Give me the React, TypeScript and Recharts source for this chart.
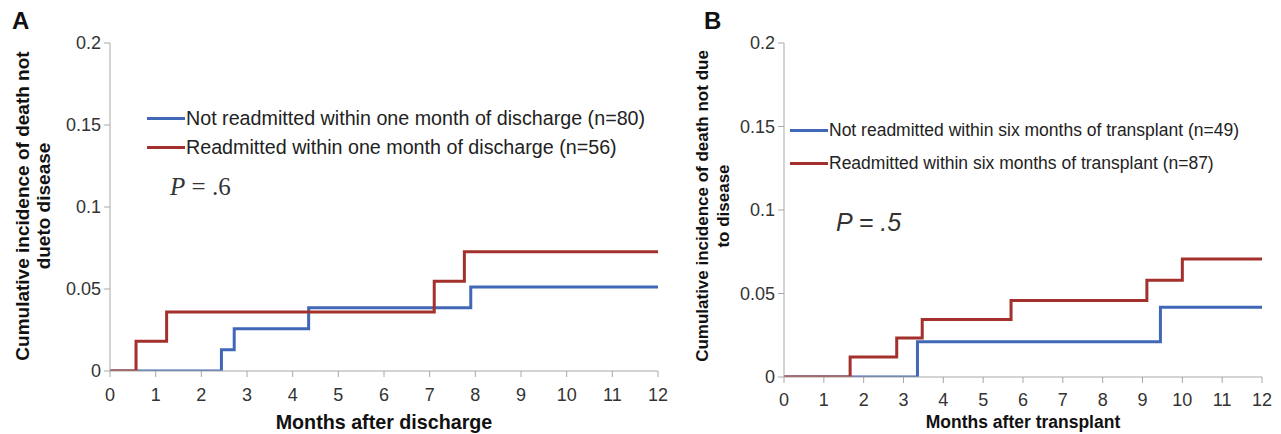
import React from 'react';
import { LineChart, Line, XAxis, YAxis, Legend } from 'recharts';

// month ticks and incidence ticks shared by both panels
const monthTicks = [0, 1, 2, 3, 4, 5, 6, 7, 8, 9, 10, 11, 12];
const incidenceTicks = [0, 0.05, 0.1, 0.15, 0.2];

// Panel A: months after discharge
const dischargeNotMonths = [0, 2.44, 2.72, 4.35, 7.9, 12];
const dischargeNotIncidence = [0, 0.013, 0.0257, 0.0385, 0.0512, 0.0512];
const dischargeReMonths = [0, 0.57, 1.24, 7.1, 7.76, 12];
const dischargeReIncidence = [0, 0.0182, 0.036, 0.0548, 0.0727, 0.0727];

// Panel B: months after transplant
const transplantNotMonths = [0, 3.35, 9.45, 12];
const transplantNotIncidence = [0, 0.0211, 0.0418, 0.0418];
const transplantReMonths = [0, 1.66, 2.83, 3.47, 5.7, 9.11, 10.0, 12];
const transplantReIncidence = [0, 0.012, 0.0233, 0.0345, 0.0458, 0.058, 0.0707, 0.0707];

const BLUE = '#4068b6';
const RED = '#a3302c';
const AXIS = '#a8a8a8';
const SANS = '"Liberation Sans", Arial, sans-serif';

const toPoints = (xs: number[], ys: number[]) => xs.map((x, i) => ({ x, y: ys[i] }));

interface PanelProps {
  left: number;
  width: number;
  margin: { top: number; right: number; left: number; bottom: number };
  blue: { x: number; y: number }[];
  red: { x: number; y: number }[];
  blueName: string;
  redName: string;
  legendPos: { left: number; top: number };
  legendRow: number;
  legendFont: number;
  xTickMargin: number;
}

const Panel: React.FC<PanelProps> = (p) => {
  const renderLegend = (props: any) => {
    const items = props.payload || [];
    return (
      <div style={{ fontFamily: SANS, fontSize: p.legendFont, color: '#222', whiteSpace: 'nowrap' }}>
        {items.map((it: any) => (
          <div key={it.value} style={{ display: 'flex', alignItems: 'center', height: p.legendRow }}>
            <span style={{ display: 'inline-block', width: 38, height: 3, background: it.color, marginRight: 1 }} />
            <span>{it.value}</span>
          </div>
        ))}
      </div>
    );
  };

  return (
    <div style={{ position: 'absolute', left: p.left, top: 0 }}>
      <LineChart width={p.width} height={434} margin={p.margin}>
        <XAxis
          type="number"
          dataKey="x"
          domain={[0, 12]}
          ticks={monthTicks}
          allowDataOverflow
          height={30}
          stroke={AXIS}
          tickSize={6}
          tickMargin={p.xTickMargin}
          tick={{ fill: '#333', fontSize: 18, fontFamily: SANS }}
        />
        <YAxis
          type="number"
          dataKey="y"
          domain={[0, 0.2]}
          ticks={incidenceTicks}
          allowDataOverflow
          width={70}
          stroke={AXIS}
          tickSize={6}
          tickMargin={3}
          tick={{ fill: '#333', fontSize: 18, fontFamily: SANS }}
        />
        <Legend
          layout="vertical"
          align="center"
          verticalAlign="middle"
          content={renderLegend}
          wrapperStyle={{ left: p.legendPos.left, top: p.legendPos.top, width: 'auto' }}
        />
        <Line
          data={p.blue}
          dataKey="y"
          name={p.blueName}
          type="stepAfter"
          stroke={BLUE}
          strokeWidth={3}
          dot={false}
          isAnimationActive={false}
        />
        <Line
          data={p.red}
          dataKey="y"
          name={p.redName}
          type="stepAfter"
          stroke={RED}
          strokeWidth={3}
          dot={false}
          isAnimationActive={false}
        />
      </LineChart>
    </div>
  );
};

const abs = (s: React.CSSProperties): React.CSSProperties => ({ position: 'absolute', whiteSpace: 'nowrap', ...s });

const yTitle = (cx: number, cy: number, lines: string[], size: number): React.ReactNode => (
  <div
    style={abs({
      left: cx,
      top: cy,
      transform: 'translate(-50%, -50%) rotate(-90deg)',
      fontFamily: SANS,
      fontWeight: 'bold',
      fontSize: size,
      lineHeight: '21px',
      textAlign: 'center',
      color: '#111',
    })}
  >
    {lines.map((l) => (
      <div key={l}>{l}</div>
    ))}
  </div>
);

export default function App() {
  return (
    <div style={{ position: 'absolute', left: 0, top: 0, width: 1281, height: 434, background: '#fff', overflow: 'hidden' }}>
      <Panel
        left={0}
        width={680}
        margin={{ top: 43, right: 22, left: 40, bottom: 33 }}
        blue={toPoints(dischargeNotMonths, dischargeNotIncidence)}
        red={toPoints(dischargeReMonths, dischargeReIncidence)}
        blueName="Not readmitted within one month of discharge (n=80)"
        redName="Readmitted within one month of discharge (n=56)"
        legendPos={{ left: 147, top: 104 }}
        legendRow={29}
        legendFont={19.7}
        xTickMargin={11}
      />
      <Panel
        left={680}
        width={601}
        margin={{ top: 43, right: 19, left: 34, bottom: 27 }}
        blue={toPoints(transplantNotMonths, transplantNotIncidence)}
        red={toPoints(transplantReMonths, transplantReIncidence)}
        blueName="Not readmitted within six months of transplant (n=49)"
        redName="Readmitted within six months of transplant (n=87)"
        legendPos={{ left: 110, top: 114 }}
        legendRow={33}
        legendFont={17.5}
        xTickMargin={10}
      />

      <div style={abs({ left: 12, top: 7, fontFamily: SANS, fontWeight: 'bold', fontSize: 24, color: '#111' })}>A</div>
      <div style={abs({ left: 704, top: 7, fontFamily: SANS, fontWeight: 'bold', fontSize: 24, color: '#111' })}>B</div>

      {yTitle(33, 206, ['Cumulative incidence of death not', 'dueto disease'], 19)}
      {yTitle(713, 206, ['Cumulative incidence of death not due', 'to disease'], 17)}

      <div style={abs({ left: 384, top: 422, transform: 'translate(-50%, -50%)', fontFamily: SANS, fontWeight: 'bold', fontSize: 19.7, color: '#111' })}>
        Months after discharge
      </div>
      <div style={abs({ left: 1023, top: 422, transform: 'translate(-50%, -50%)', fontFamily: SANS, fontWeight: 'bold', fontSize: 17.5, color: '#111' })}>
        Months after transplant
      </div>

      <div style={abs({ left: 170, top: 187, transform: 'translateY(-50%)', fontFamily: '"Liberation Serif", "Times New Roman", serif', fontSize: 25, color: '#333' })}>
        <i>P</i> = .6
      </div>
      <div style={abs({ left: 836, top: 222, transform: 'translateY(-50%)', fontFamily: SANS, fontStyle: 'italic', fontSize: 25, color: '#333' })}>
        P = .5
      </div>
    </div>
  );
}
